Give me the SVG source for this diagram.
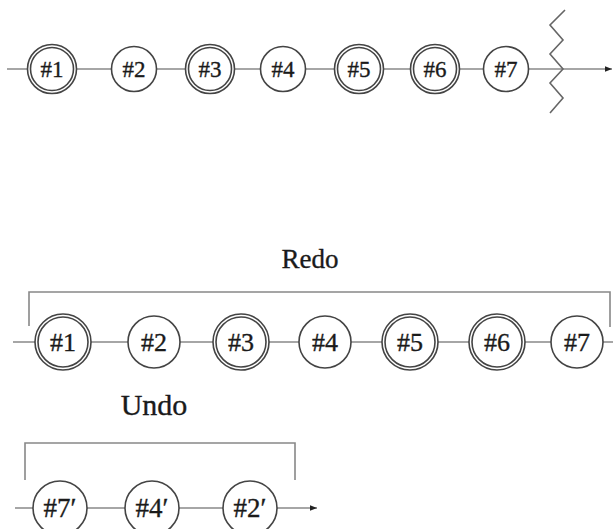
<svg xmlns="http://www.w3.org/2000/svg" width="613" height="529" viewBox="0 0 613 529">
<style>
.c{fill:#fff;stroke:#444;stroke-width:1.6}
.l{fill:none;stroke:#888;stroke-width:1.6}
.t{font-family:"Liberation Serif","DejaVu Serif",serif;fill:#1a1a1a;stroke:#1a1a1a;stroke-width:0.35;text-anchor:middle}
.s1{font-size:23px}
.s2{font-size:26px}
.s3{font-size:27px}
</style>
<defs>
<marker id="ah" viewBox="0 0 10 10" refX="10" refY="5" markerWidth="7" markerHeight="7" markerUnits="userSpaceOnUse" orient="auto">
<path d="M0,1 L10,5 L0,9 z" fill="#222"/>
</marker>
</defs>
<g id="connectors">
<line class="l" x1="7" y1="69" x2="612" y2="69" marker-end="url(#ah)"/>
<polyline class="l" points="565,10 550,25 563,40 550,54 563,69 550,83 563,98 550,113" style="stroke:#666"/>
<line class="l" x1="13" y1="342" x2="613" y2="342"/>
<path class="l" d="M29,326 V292 H610 V327"/>
<line class="l" x1="15" y1="508" x2="317" y2="508" marker-end="url(#ah)"/>
<path class="l" d="M25,480 V443 H295 V480"/>
</g>
<g id="r1n1"><circle class="c" cx="52" cy="69" r="24.5"/><circle class="c" cx="52" cy="69" r="21.5"/><text class="t s1" x="52" y="77">#1</text></g>
<g id="r1n2"><circle class="c" cx="134" cy="69" r="22.5"/><text class="t s1" x="134" y="77">#2</text></g>
<g id="r1n3"><circle class="c" cx="210" cy="69" r="24.5"/><circle class="c" cx="210" cy="69" r="21.5"/><text class="t s1" x="210" y="77">#3</text></g>
<g id="r1n4"><circle class="c" cx="283" cy="69" r="22.5"/><text class="t s1" x="283" y="77">#4</text></g>
<g id="r1n5"><circle class="c" cx="359" cy="69" r="24.5"/><circle class="c" cx="359" cy="69" r="21.5"/><text class="t s1" x="359" y="77">#5</text></g>
<g id="r1n6"><circle class="c" cx="435" cy="69" r="24.5"/><circle class="c" cx="435" cy="69" r="21.5"/><text class="t s1" x="435" y="77">#6</text></g>
<g id="r1n7"><circle class="c" cx="506" cy="69" r="22.5"/><text class="t s1" x="506" y="77">#7</text></g>
<g id="redo-label"><text class="t s3" x="310" y="268">Redo</text></g>
<g id="r2n1"><circle class="c" cx="63" cy="342" r="28"/><circle class="c" cx="63" cy="342" r="25"/><text class="t s2" x="63" y="351">#1</text></g>
<g id="r2n2"><circle class="c" cx="154" cy="342" r="26"/><text class="t s2" x="154" y="351">#2</text></g>
<g id="r2n3"><circle class="c" cx="241" cy="342" r="28"/><circle class="c" cx="241" cy="342" r="25"/><text class="t s2" x="241" y="351">#3</text></g>
<g id="r2n4"><circle class="c" cx="325" cy="342" r="26"/><text class="t s2" x="325" y="351">#4</text></g>
<g id="r2n5"><circle class="c" cx="410" cy="342" r="28"/><circle class="c" cx="410" cy="342" r="25"/><text class="t s2" x="410" y="351">#5</text></g>
<g id="r2n6"><circle class="c" cx="497" cy="342" r="28"/><circle class="c" cx="497" cy="342" r="25"/><text class="t s2" x="497" y="351">#6</text></g>
<g id="r2n7"><circle class="c" cx="577" cy="342" r="26"/><text class="t s2" x="577" y="351">#7</text></g>
<g id="undo-label"><text class="t" style="font-size:30px" x="154" y="415">Undo</text></g>
<g id="r3n1"><circle class="c" cx="60" cy="508" r="27"/><text class="t s3" x="60" y="517">#7′</text></g>
<g id="r3n2"><circle class="c" cx="152" cy="508" r="27"/><text class="t s3" x="152" y="517">#4′</text></g>
<g id="r3n3"><circle class="c" cx="250" cy="508" r="27"/><text class="t s3" x="250" y="517">#2′</text></g>
</svg>
